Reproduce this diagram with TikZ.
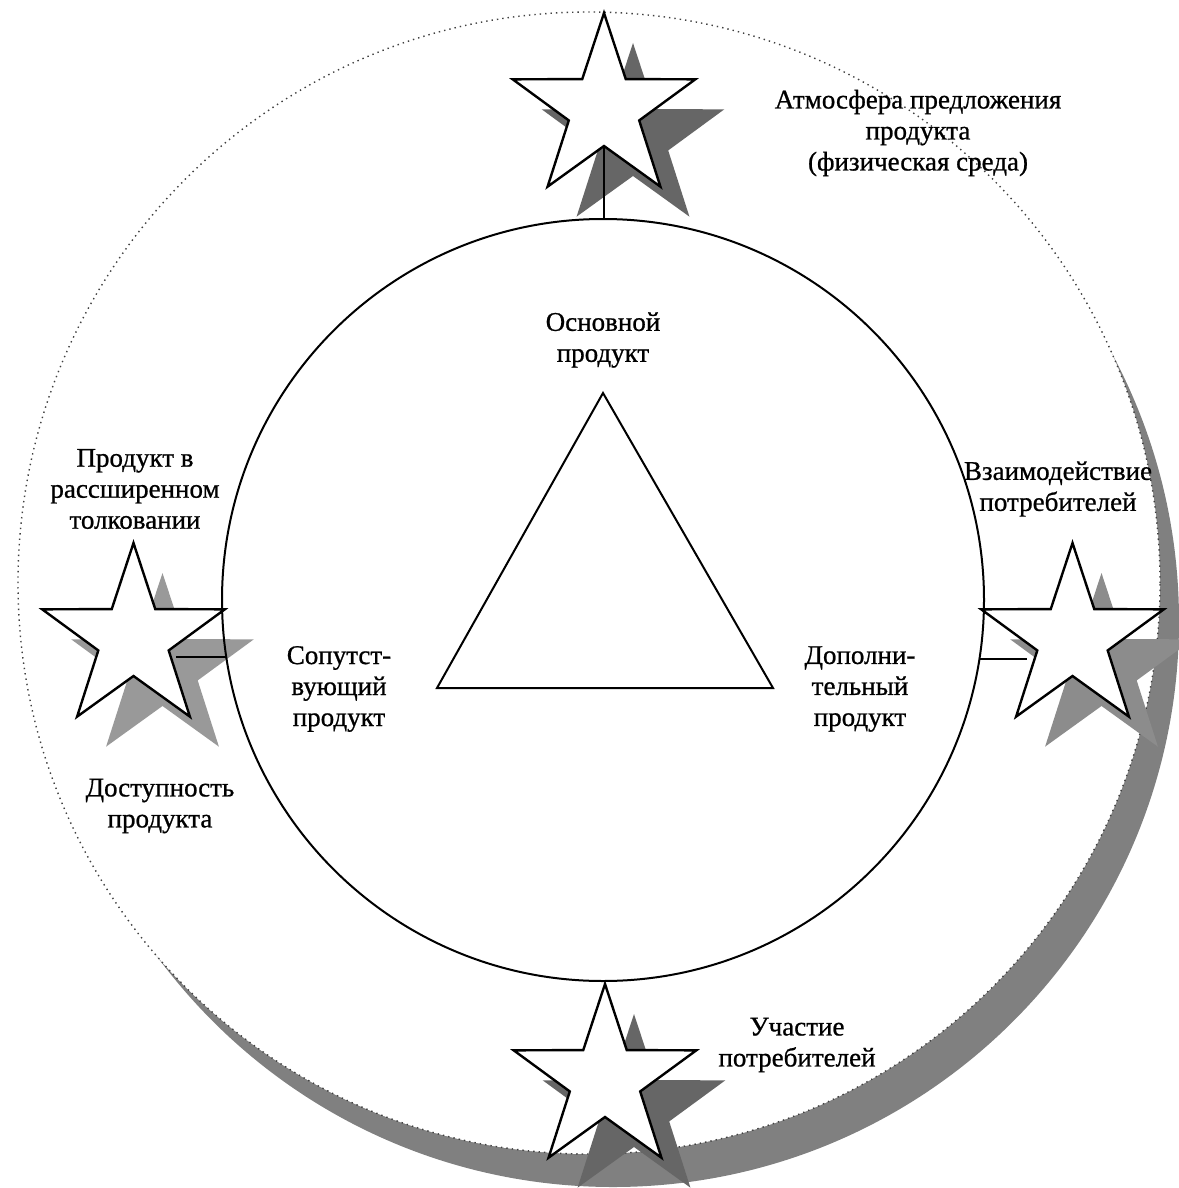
\documentclass[tikz,border=0pt]{standalone}
\usepackage{fontspec}
\setmainfont{Liberation Serif}
\newfontfamily\lblfont{Liberation Serif}[FakeBold=0.8]
\usetikzlibrary{calc}
\newcommand\starshape{(-90:96) -- (-54:37) -- (-18:96) -- (18:37) -- (54:96) -- (90:37) -- (126:96) -- (162:37) -- (198:96) -- (234:37) -- cycle}
\newcommand\drawstar[4]{%
  \coordinate (#4) at (#1,#2);
  \begin{scope}[shift={(#4)}]
    \fill[#3, shift={(29,30)}] \starshape;
    \draw[starline] \starshape;
  \end{scope}}
\tikzset{
  starline/.style={draw=black, fill=white, line width=1.2pt, line join=miter},
  mainline/.style={draw=black, line width=1pt},
  outerline/.style={draw=black!75, line width=0.7pt, dotted},
  bandcol/.style={fill=black!50},
  lbl/.style={align=center, inner sep=0pt, font=\lblfont\fontsize{13.5}{15.5}\selectfont},
}
\begin{document}
\begin{tikzpicture}[x=0.5pt, y=-0.5pt]
\useasboundingbox (0,0) rectangle (1178,1188);
% shadow band of the outer circle
\fill[bandcol] (613,621) circle[radius=283pt];
\fill[white] (589,583) circle[radius=285.5pt];
\draw[outerline] (589,583) circle[radius=285.5pt];
% stars with shadows
\drawstar{604}{109}{black!60}{stTop}
\drawstar{133.5}{639}{black!40}{stLeft}
\drawstar{1072.5}{639}{black!45}{stRight}
\drawstar{605}{1080}{black!60}{stBot}
% inner circle and triangle
\node[mainline, circle, minimum size=381pt, inner sep=0pt, outer sep=0pt] (inner) at (603,600) {};
\coordinate (tA) at (603,393);
\coordinate (tB) at (437,688);
\coordinate (tC) at (773,688);
\draw[mainline, line join=miter] (tA) -- (tB) -- (tC) -- cycle;
% connectors
\coordinate (tsEnd) at (604,146);
\draw[mainline] (tsEnd) -- (tsEnd |- inner.north);
\coordinate (lsEnd) at (176,657);
\coordinate (lsCirc) at (226.3,657);
\draw[mainline] (lsEnd) -- (lsCirc);
\coordinate (rsEnd) at (1027,659);
\coordinate (rsCirc) at (979.2,659);
\draw[mainline] (rsCirc) -- (rsEnd);
% labels
\node[lbl] (tAtm) at (918,133) {Атмосфера предложения\\продукта\\(физическая среда)};
\node[lbl] (tMain) at (603,340) {Основной\\продукт};
\node[lbl] (tExt) at (135,489) {Продукт в\\рассширенном\\толковании};
\node[lbl] (tInter) at (1058,489) {Взаимодействие\\потребителей};
\node[lbl] (tSop) at (339,689) {Сопутст-\\вующий\\продукт};
\node[lbl] (tDop) at (860,689) {Дополни-\\тельный\\продукт};
\node[lbl] (tAcc) at (160,806) {Доступность\\продукта};
\node[lbl] (tPart) at (797,1045) {Участие\\потребителей};
\end{tikzpicture}
\end{document}
